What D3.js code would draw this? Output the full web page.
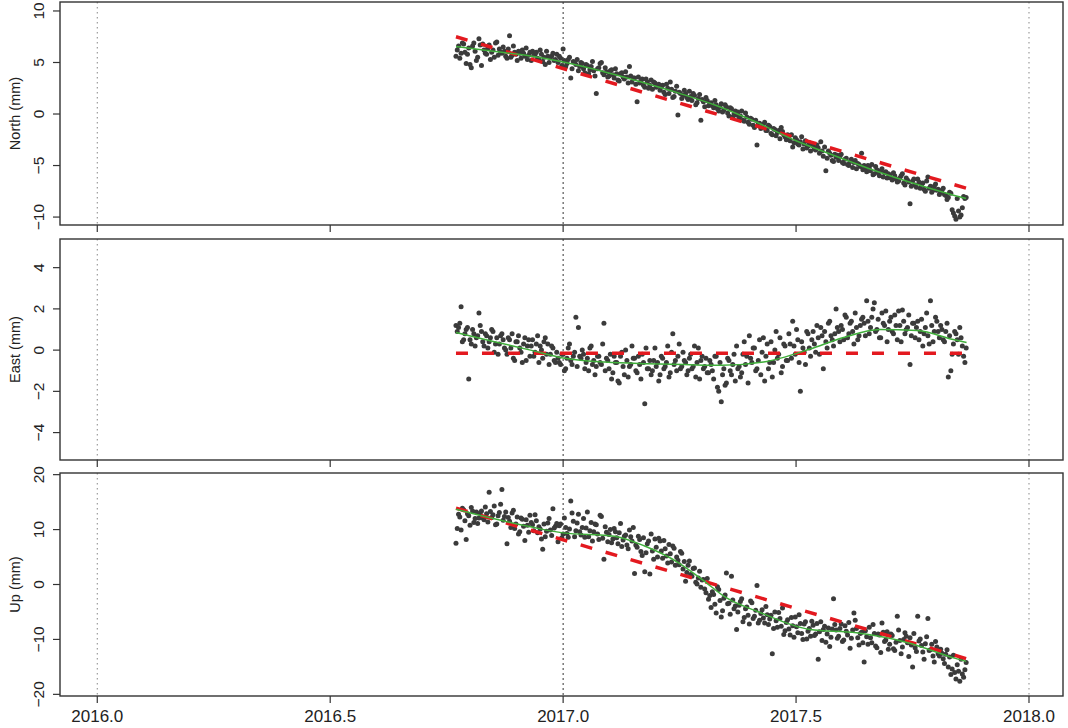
<!DOCTYPE html>
<html><head><meta charset="utf-8">
<script src="https://cdn.jsdelivr.net/npm/d3@7"></script>
<style>
body{margin:0;background:#fff}
svg{display:block}
text{font-family:"Liberation Sans",Arial,Helvetica,sans-serif;fill:#222}
</style>
</head><body>
<svg id="c" width="1068" height="728"></svg>
<script>
// ---------------- DATA ----------------
const epochStart = 2016.77; // decimal year of first epoch
const dayOffsets = [0,2,4,6,8,10,12,14,16,18,20,22,24,26,28,30,32,34,36,38,40,42,44,46,48,50,52,54,56,58,
60,62,64,66,68,70,72,74,76,78,80,82,84,86,88,90,92,94,96,98,100,102,104,106,108,110,112,114,116,118,
120,122,124,126,128,130,132,134,136,138,140,142,144,146,148,150,152,154,156,158,160,162,164,166,168,170,172,174,176,178,
180,182,184,186,188,190,192,194,196,198,200,202,204,206,208,210,212,214,216,218,220,222,224,226,228,230,232,234,236,238,
240,242,244,246,248,250,252,254,256,258,260,262,264,266,268,270,272,274,276,278,280,282,284,286,288,290,292,294,296,298,
300,302,304,306,308,310,312,314,316,318,320,322,324,326,328,330,332,334,336,338,340,342,344,346,348,350,352,354,356,358,
360,362,364,366,368,370,372,374,376,378,380,382,384,386,388,390,392,394,396,398,400];
const dayOffsetsOdd = [1,3,5,7,9,11,13,15,17,19,21,23,25,27,29,31,33,35,37,39,41,43,45,47,49,51,53,55,57,59,
61,63,65,67,69,71,73,75,77,79,81,83,85,87,89,91,93,95,97,99,101,103,105,107,109,111,113,115,117,119,
121,123,125,127,129,131,133,135,137,139,141,143,145,147,149,151,153,155,157,159,161,163,165,167,169,171,173,175,177,179,
181,183,185,187,189,191,193,195,197,199,201,203,205,207,209,211,213,215,217,219,221,223,225,227,229,231,233,235,237,239,
241,243,245,247,249,251,253,255,257,259,261,263,265,267,269,271,273,275,277,279,281,283,285,287,289,291,293,295,297,299,
301,303,305,307,309,311,313,315,317,319,321,323,325,327,329,331,333,335,337,339,341,343,345,347,349,351,353,355,357,359,
361,363,365,367,369,371,373,375,377,379,381,383,385,387,389,391,393,395,397,399];

const northValues = [5.6,6.6,5.9,6.8,4.9,6.4,4.5,6.9,5.2,7.3,
4.7,6.2,5.8,6.7,6.0,5.5,7.0,6.3,5.9,6.1,
5.4,7.6,5.7,6.0,5.2,5.9,6.2,5.6,5.3,6.0,
6.1,5.8,5.4,6.2,5.1,4.8,5.6,5.5,5.9,5.3,
5.0,5.4,6.3,4.6,5.3,3.5,5.1,4.8,4.2,5.0,
4.4,4.8,3.9,4.6,4.2,2.0,4.5,5.0,3.8,4.1,
3.7,4.3,3.5,3.9,3.2,4.0,3.4,3.6,4.6,3.1,
3.5,1.2,3.0,3.4,2.6,3.1,2.8,2.4,3.0,2.7,
2.3,2.8,1.9,2.5,3.1,1.6,2.2,-0.1,2.0,1.8,
2.0,1.4,1.7,2.0,0.9,1.5,-0.6,1.2,1.6,0.8,
1.1,0.6,0.9,0.3,1.0,0.4,0.7,-0.2,0.5,0.0,
-0.1,-0.4,0.3,-0.7,-0.3,-1.0,-0.5,-1.3,-3.0,-0.9,
-1.3,-0.8,-1.6,-1.2,-2.0,-1.5,-1.8,-2.4,-1.7,-2.2,
-2.0,-2.6,-3.2,-2.3,-2.9,-2.7,-3.4,-2.6,-3.1,-3.6,
-3.1,-3.5,-3.3,-2.7,-4.1,-5.5,-3.6,-4.0,-4.6,-4.2,
-4.5,-3.9,-4.8,-4.3,-5.0,-4.4,-4.7,-5.3,-4.9,-3.8,
-5.0,-5.6,-5.2,-4.9,-5.8,-5.4,-6.0,-5.3,-5.7,-6.2,
-5.9,-6.4,-6.0,-6.6,-6.2,-5.8,-6.9,-6.4,-8.7,-6.5,
-6.9,-6.3,-7.2,-6.7,-7.5,-6.1,-7.0,-7.4,-6.8,-7.3,
-7.6,-7.2,-7.9,-8.1,-7.7,-9.6,-10.2,-9.4,-9.8,-8.0,
-8.1];
const northValuesOdd = [6.2,5.4,6.9,6.0,5.8,4.8,6.6,6.1,5.5,6.7,
6.8,5.9,6.4,5.3,6.2,6.9,5.7,6.0,6.5,5.6,
6.3,5.5,6.6,5.8,6.1,5.4,5.9,6.4,5.7,5.2,
5.7,6.0,5.3,5.8,5.5,6.1,5.0,5.6,5.2,5.8,
5.6,4.7,5.2,4.9,5.5,4.4,5.0,5.3,4.6,4.9,
4.0,4.7,4.3,5.1,3.7,4.4,4.9,4.0,4.5,3.6,
4.2,3.8,4.4,3.3,3.9,3.6,4.1,3.0,3.7,3.5,
2.9,3.6,3.2,2.8,3.4,2.5,3.3,3.1,2.6,2.9,
2.6,2.1,2.9,2.0,2.4,1.7,2.7,2.1,1.5,2.3,
1.6,2.2,1.3,1.8,1.1,1.9,1.4,0.7,1.3,1.0,
0.8,1.3,0.5,0.7,0.2,0.9,0.1,0.6,-0.3,0.3,
0.2,-0.2,-0.6,0.1,-0.8,-0.4,-1.1,-0.6,-1.0,-1.4,
-1.0,-1.6,-1.1,-1.9,-1.4,-2.1,-1.6,-1.3,-2.0,-2.5,
-2.4,-2.0,-2.8,-2.5,-3.0,-2.2,-2.9,-3.3,-2.8,-3.0,
-3.4,-3.0,-3.8,-3.6,-3.2,-4.3,-3.8,-4.5,-3.9,-4.0,
-4.1,-4.7,-4.4,-4.9,-4.6,-5.2,-4.5,-4.8,-5.1,-5.4,
-5.3,-5.0,-5.5,-5.9,-5.1,-5.7,-5.5,-6.1,-5.6,-5.8,
-6.2,-5.7,-6.3,-6.5,-6.0,-6.7,-6.2,-6.6,-7.0,-6.3,
-7.1,-6.6,-6.9,-7.3,-6.5,-7.2,-7.6,-7.0,-7.4,-7.8,
-7.4,-7.8,-8.3,-7.6,-9.3,-9.9,-8.2,-10.0,-9.1,-8.2];

const eastValues = [1.2,1.1,2.1,0.5,1.0,-1.4,0.3,0.8,0.6,1.8,
0.9,0.2,0.7,0.4,1.0,-0.1,0.6,0.3,0.8,0.1,
-0.2,0.5,0.8,-0.5,0.4,0.1,-0.6,0.6,0.2,-0.3,
0.5,-0.1,0.7,0.2,-0.4,0.6,0.3,-0.2,0.1,-0.6,
-0.4,-0.7,-0.2,-0.9,0.1,-0.5,-0.3,1.6,1.1,-0.4,
-0.2,-0.6,-1.0,0.2,-0.5,-0.8,-0.3,-0.7,1.3,-0.4,
-0.9,-1.4,-0.3,-0.6,-1.6,-0.1,-1.2,-0.5,-0.8,0.2,
-0.4,-1.1,-0.7,-0.2,-2.6,-0.9,-0.5,-1.0,0.1,-0.6,
-1.2,-0.4,-0.8,0.2,-1.1,0.8,-0.5,-0.3,-0.9,-0.1,
-0.6,-1.0,-0.2,-0.8,-1.3,0.1,-0.5,-0.9,-0.4,-1.1,
-0.7,-1.4,-0.3,-2.0,-2.5,-0.9,-1.6,-0.5,-1.2,-0.2,
0.2,-0.8,-1.1,0.4,-0.3,0.7,-0.6,0.1,-0.9,0.5,
-0.1,-1.5,0.3,-0.6,-1.3,0.0,-0.4,0.6,-0.8,0.2,
-0.5,0.3,1.4,-0.2,0.5,-2.0,0.1,-0.7,0.8,-0.3,
0.9,-0.1,0.6,1.1,-0.9,0.4,1.3,0.7,0.2,2.0,
0.9,1.2,0.5,1.6,0.8,1.4,0.3,1.1,0.7,1.5,
1.3,2.4,0.8,1.6,2.3,1.0,0.6,1.8,1.2,0.4,
1.4,0.9,1.7,0.5,1.2,1.95,0.8,1.1,-0.7,1.3,
0.6,1.4,0.9,0.2,1.1,0.7,2.4,0.4,1.6,0.9,
1.2,0.5,0.9,-1.3,-1.0,0.3,0.8,-0.2,0.6,-0.3,
0.1];
const eastValuesOdd = [0.9,1.3,0.4,0.8,1.1,0.5,1.0,0.2,0.7,1.2,
0.4,0.8,0.1,0.6,0.9,0.3,-0.2,0.7,0.5,0.0,
0.6,0.1,-0.4,0.4,0.7,-0.1,0.3,-0.5,0.5,0.2,
-0.3,0.3,-0.6,0.0,0.4,-0.2,-0.7,0.2,-0.5,-0.1,
-0.6,-0.2,-1.0,-0.4,0.3,-0.7,-0.1,-0.8,-0.3,0.0,
-0.9,-0.4,0.1,-0.7,-1.2,-0.3,-0.6,0.3,-1.0,-0.5,
-0.2,-1.1,-0.6,-1.5,-0.3,-0.8,0.0,-1.3,-0.7,-0.4,
-1.0,-0.3,-1.4,-0.6,0.1,-0.9,-1.2,-0.5,-0.8,-1.5,
-0.3,-0.9,-0.6,-1.3,-0.1,-0.7,-1.0,0.3,-0.8,-0.5,
-1.2,-0.4,-0.9,0.2,-0.6,-1.4,-0.3,-0.8,-1.1,-0.5,
-1.0,-0.3,-1.8,-0.6,-1.2,-1.7,-0.4,-1.0,-0.7,-1.5,
-0.9,-1.3,-0.2,-0.7,-1.6,-0.4,0.1,-1.0,-0.5,-1.2,
0.6,-0.3,-0.9,0.4,-0.6,0.9,-0.2,-1.1,0.3,-0.5,
0.8,-0.4,0.2,1.0,-0.6,0.4,-0.1,0.9,0.1,0.5,
0.3,1.2,-0.2,0.7,0.9,0.1,1.4,0.5,0.8,1.1,
0.4,1.0,1.7,0.6,1.3,0.9,1.8,0.5,1.2,1.6,
0.7,1.4,1.1,2.0,0.9,1.5,0.6,1.3,1.9,1.0,
1.6,0.8,1.2,1.9,0.4,1.4,1.0,1.7,0.7,1.3,
1.1,0.5,1.5,0.8,1.8,0.3,1.2,0.9,1.4,0.6,
1.0,0.4,1.3,0.7,-0.2,0.9,0.5,1.1,0.2,-0.6];

const upValues = [7.5,12.8,9.9,13.6,8.2,12.5,14.0,11.3,13.2,12.1,
13.4,11.8,12.9,16.8,12.2,14.3,11.0,13.1,17.3,12.4,
7.4,11.5,13.0,10.2,12.3,9.6,11.9,8.0,10.8,12.6,
10.9,12.7,9.4,10.1,6.4,8.7,11.2,9.9,13.8,10.6,
7.8,11.0,9.2,10.4,8.6,15.2,11.5,9.8,12.8,9.0,
12.0,10.3,8.7,11.3,9.6,10.9,8.2,12.4,4.6,9.5,
9.1,7.6,10.2,8.5,9.4,6.9,8.8,7.2,9.9,7.9,
2.0,6.8,8.2,5.3,2.3,7.4,1.9,6.1,8.3,5.0,
7.9,4.8,6.5,3.9,5.6,7.0,3.5,4.4,6.0,2.8,
0.6,3.5,1.8,2.9,0.4,1.2,-0.5,0.9,-1.5,-2.7,
-4.2,-1.8,-5.2,-0.9,-5.9,-2.5,2.1,-3.4,1.5,-4.4,
-8.2,-3.8,-2.6,-6.0,-4.1,-7.2,-3.3,-5.8,-0.2,-6.5,
-4.6,-7.0,-5.5,-6.3,-12.6,-5.0,-7.8,-6.2,-4.3,-8.4,
-6.4,-9.2,-7.5,-5.9,-8.8,-7.1,-10.0,-6.8,-8.5,-9.4,
-7.4,-9.0,-13.6,-6.8,-8.2,-10.5,-7.9,-9.6,-2.6,-8.3,
-9.4,-7.2,-10.1,-8.5,-6.9,-9.8,-5.2,-8.0,-11.0,-8.7,
-14.1,-9.5,-7.8,-10.6,-8.9,-11.5,-9.2,-7.0,-10.4,-8.6,
-10.9,-9.3,-12.0,-5.8,-10.2,-11.4,-8.8,-10.6,-9.7,-15.0,
-11.5,-5.8,-9.9,-12.3,-10.8,-6.2,-11.9,-13.0,-10.4,-12.6,
-11.8,-13.5,-12.7,-15.0,-16.4,-12.9,-17.2,-15.8,-13.6,-16.9,
-14.2];
const upValuesOdd = [10.2,12.3,13.9,11.6,12.9,10.8,13.4,12.0,11.1,13.0,
12.1,14.1,11.4,13.3,12.7,10.9,12.5,14.6,11.7,13.2,
12.2,10.4,13.5,11.0,9.2,12.1,10.6,11.8,9.5,11.3,
9.8,11.6,10.5,8.3,11.0,9.7,12.0,8.9,10.3,11.1,
10.7,8.5,12.1,9.3,10.1,13.0,8.7,11.2,9.6,10.4,
8.6,13.2,9.8,7.9,11.0,9.2,12.6,8.4,10.5,7.8,
10.0,8.3,9.6,7.4,11.1,8.1,9.0,6.5,8.7,10.4,
7.2,8.8,6.0,8.5,5.8,7.9,9.2,4.6,6.8,8.4,
6.1,8.0,5.2,7.3,4.1,6.6,5.0,3.6,5.7,4.2,
2.2,4.3,1.5,3.0,0.1,2.4,0.8,-0.8,1.1,-2.0,
-1.3,-3.6,-0.4,-2.9,-4.8,-1.9,-3.5,-5.4,-2.8,-3.9,
-5.0,-3.1,-6.8,-4.4,-5.6,-3.0,-6.2,-4.7,-7.0,-5.3,
-6.1,-4.0,-7.3,-5.6,-8.0,-6.6,-5.1,-7.6,-9.1,-6.9,
-8.1,-6.0,-9.6,-7.7,-5.5,-8.9,-7.2,-9.9,-8.0,-6.7,
-9.3,-7.1,-8.6,-10.2,-7.6,-9.0,-11.3,-8.1,-7.3,-9.8,
-8.0,-10.4,-7.5,-9.2,-11.6,-8.3,-6.5,-9.7,-8.9,-10.6,
-8.4,-10.9,-9.7,-7.3,-11.2,-9.0,-12.4,-8.7,-10.1,-11.8,
-9.0,-11.7,-10.5,-8.3,-12.6,-10.0,-9.4,-13.1,-11.0,-8.9,
-12.2,-10.3,-11.1,-13.6,-9.5,-12.0,-10.9,-14.1,-11.4,-13.0,
-12.5,-14.4,-11.9,-13.2,-15.4,-16.0,-14.6,-17.6,-16.3,-15.5];

// linear fit (red dashed): value at first and last epoch
const fitTimes = [2016.77, 2017.865];
const northFit = [7.5, -7.2];
const eastFit = [-0.15, -0.15];
const upFit = [13.9, -13.5];

// smooth trend (green)
const northSmoothTimes = [2016.77,2016.85,2016.92,2017.0,2017.08,2017.16,2017.25,2017.33,2017.42,2017.5,2017.58,2017.67,2017.75,2017.84,2017.865];
const northSmooth = [6.55,6.1,5.7,5.05,4.2,3.2,2.0,0.8,-0.9,-2.6,-4.0,-5.5,-6.7,-7.9,-8.2];
const eastSmoothTimes = [2016.77,2016.85,2016.93,2017.0,2017.09,2017.18,2017.26,2017.34,2017.43,2017.53,2017.60,2017.68,2017.76,2017.84,2017.866];
const eastSmooth = [0.85,0.42,0.0,-0.38,-0.58,-0.66,-0.7,-0.74,-0.58,0.05,0.6,1.0,0.95,0.5,0.37];
const upSmoothTimes = [2016.77,2016.85,2016.93,2017.0,2017.11,2017.175,2017.247,2017.30,2017.35,2017.42,2017.53,2017.63,2017.74,2017.84,2017.865];
const upSmooth = [13.7,12.0,10.5,9.4,8.8,7.0,4.0,0.8,-2.4,-5.0,-8.2,-8.8,-10.6,-13.4,-14.0];

const xTicks = [2016.0, 2016.5, 2017.0, 2017.5, 2018.0];
const refLines = [2016.0, 2017.0, 2018.0];
const northTicks = [-10,-5,0,5,10];
const eastTicks = [-4,-2,0,2,4];
const upTicks = [-20,-10,0,10,20];
const titles = ["North (mm)", "East (mm)", "Up (mm)"];

// ---------------- DRAW ----------------
const svg = d3.select("#c");
const L = 60, R = 1063;
const x = d3.scaleLinear().domain([2015.92, 2018.073]).range([L, R]);
const toYear = d => epochStart + d / 365.25;

const panels = [
  {title: titles[0], vals: northValues, valsOdd: northValuesOdd, fit: northFit, st: northSmoothTimes, sv: northSmooth, dom: [-10.77, 10.87], ticks: northTicks, top: 2, bot: 225},
  {title: titles[1], vals: eastValues, valsOdd: eastValuesOdd, fit: eastFit, st: eastSmoothTimes, sv: eastSmooth, dom: [-5.33, 5.39], ticks: eastTicks, top: 239, bot: 460},
  {title: titles[2], vals: upValues, valsOdd: upValuesOdd, fit: upFit, st: upSmoothTimes, sv: upSmooth, dom: [-20.3, 20.3], ticks: upTicks, top: 473, bot: 696}
];

const fmtMinus = v => (v < 0 ? "\u2212" + Math.abs(v) : String(v));

panels.forEach((p, i) => {
  const y = d3.scaleLinear().domain(p.dom).range([p.bot, p.top]);
  const g = svg.append("g");
  const pts = p.vals.map((v, k) => [toYear(dayOffsets[k]), v])
    .concat(p.valsOdd.map((v, k) => [toYear(dayOffsetsOdd[k]), v]));

  // reference vertical lines
  refLines.forEach(t => {
    g.append("line")
      .attr("x1", x(t)).attr("x2", x(t))
      .attr("y1", p.top).attr("y2", p.bot)
      .attr("stroke", t === 2017.0 ? "#333" : "#888")
      .attr("stroke-width", 1)
      .attr("stroke-dasharray", t === 2017.0 ? "2,3" : "1.5,3.5");
  });

  // points
  g.append("g").selectAll("circle").data(pts).join("circle")
    .attr("cx", d => x(d[0]))
    .attr("cy", d => y(d[1]))
    .attr("r", 2.5)
    .attr("fill", "#3b3b3b");

  // linear fit
  g.append("path")
    .datum(fitTimes.map((t, k) => [t, p.fit[k]]))
    .attr("d", d3.line().x(d => x(d[0])).y(d => y(d[1])))
    .attr("fill", "none")
    .attr("stroke", "#e3191f")
    .attr("stroke-width", 3.5)
    .attr("stroke-dasharray", "12,14");

  // smooth
  g.append("path")
    .datum(p.st.map((t, k) => [t, p.sv[k]]))
    .attr("d", d3.line().curve(d3.curveMonotoneX).x(d => x(d[0])).y(d => y(d[1])))
    .attr("fill", "none")
    .attr("stroke", "#3fae3a")
    .attr("stroke-width", 1.5);

  // frame
  g.append("rect")
    .attr("x", L).attr("y", p.top)
    .attr("width", R - L).attr("height", p.bot - p.top)
    .attr("fill", "none").attr("stroke", "#333").attr("stroke-width", 1.4);

  // y axis ticks & labels
  p.ticks.forEach(v => {
    g.append("line").attr("x1", L - 7).attr("x2", L)
      .attr("y1", y(v)).attr("y2", y(v))
      .attr("stroke", "#333").attr("stroke-width", 1.2);
    g.append("text")
      .attr("transform", `translate(${44},${y(v)}) rotate(-90)`)
      .attr("text-anchor", "middle")
      .attr("font-size", 15.5)
      .text(fmtMinus(v));
  });

  // x ticks (bottom of each panel)
  xTicks.forEach(t => {
    g.append("line").attr("x1", x(t)).attr("x2", x(t))
      .attr("y1", p.bot).attr("y2", p.bot + 7)
      .attr("stroke", "#333").attr("stroke-width", 1.2);
  });

  // title
  g.append("text")
    .attr("transform", `translate(${19.5},${(p.top + p.bot) / 2}) rotate(-90)`)
    .attr("text-anchor", "middle")
    .attr("font-size", 14.5)
    .text(p.title);

  if (i === 2) {
    xTicks.forEach(t => {
      g.append("text")
        .attr("x", x(t)).attr("y", 722)
        .attr("text-anchor", "middle")
        .attr("font-size", 17)
        .text(t.toFixed(1));
    });
  }
});
</script>
</body></html>
